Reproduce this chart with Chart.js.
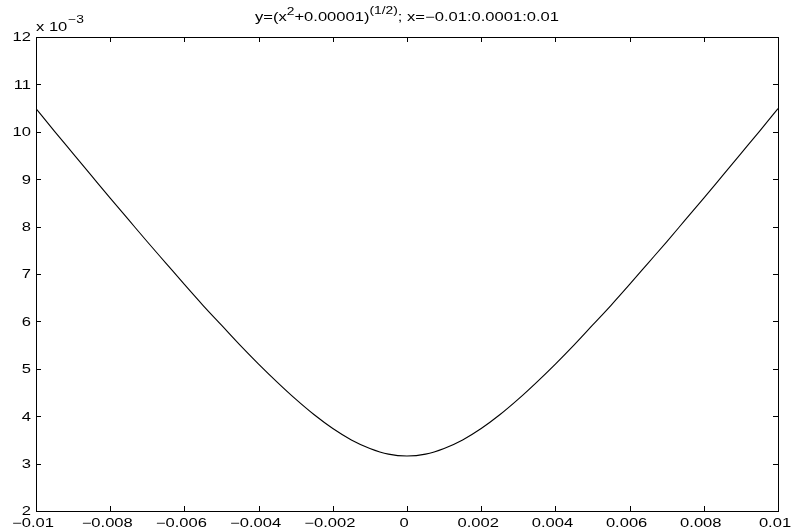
<!DOCTYPE html>
<html>
<head>
<meta charset="utf-8">
<script src="https://cdn.jsdelivr.net/npm/chart.js@4.4.0/dist/chart.umd.min.js"></script>
<style>
  body { margin: 0; background: #fff; }
  #wrap { width: 791px; height: 531px; }
</style>
</head>
<body>
<div id="wrap"><canvas id="myChart" width="791" height="531"></canvas></div>
<script>
// x values (step 0.0005) and y, y in units of 1e-3
const xValues = [-0.01, -0.0095, -0.009, -0.0085, -0.008, -0.0075, -0.007, -0.0065, -0.006, -0.0055,
    -0.005, -0.0045, -0.004, -0.0035, -0.003, -0.0025, -0.002, -0.0015, -0.001, -0.0005,
    0, 0.0005, 0.001, 0.0015, 0.002, 0.0025, 0.003, 0.0035, 0.004, 0.0045,
    0.005, 0.0055, 0.006, 0.0065, 0.007, 0.0075, 0.008, 0.0085, 0.009, 0.0095, 0.01];
const yValues = [10.49, 10.01, 9.54, 9.07, 8.60, 8.14, 7.68, 7.23, 6.78, 6.34,
    5.92, 5.50, 5.10, 4.72, 4.36, 4.03, 3.74, 3.50, 3.32, 3.20,
    3.16, 3.20, 3.32, 3.50, 3.74, 4.03, 4.36, 4.72, 5.10, 5.50,
    5.92, 6.34, 6.78, 7.23, 7.68, 8.14, 8.60, 9.07, 9.54, 10.01, 10.49];
const xTicks = [-0.01, -0.008, -0.006, -0.004, -0.002, 0, 0.002, 0.004, 0.006, 0.008, 0.01];
const xTickLabels = ['\u22120.01', '\u22120.008', '\u22120.006', '\u22120.004', '\u22120.002', '0',
    '0.002', '0.004', '0.006', '0.008', '0.01'];
const yTicks = [2, 3, 4, 5, 6, 7, 8, 9, 10, 11, 12];
const yTickLabels = ['2', '3', '4', '5', '6', '7', '8', '9', '10', '11', '12'];

const FONT = '"Liberation Sans", Arial, Helvetica, sans-serif';
const SX = 1.38; // the reference text is stretched sideways

// text drawn wider than tall, like the picture
function wideText(ctx, str, x, y, size, align) {
    ctx.font = size + 'px ' + FONT;
    const w = ctx.measureText(str).width * SX;
    let left = x;
    if (align === 'center') left = x - w / 2;
    if (align === 'right') left = x - w;
    ctx.save();
    ctx.translate(left, y);
    ctx.scale(SX, 1);
    ctx.textAlign = 'left';
    ctx.fillText(str, 0, 0);
    ctx.restore();
    return w;
}

// box, inward ticks, tick labels, title and exponent label
const matlabAxes = {
    id: 'matlabAxes',
    afterDraw(chart) {
        const ctx = chart.ctx;
        const a = chart.chartArea;
        const xs = chart.scales.x, ys = chart.scales.y;
        ctx.save();
        ctx.strokeStyle = '#000';
        ctx.lineWidth = 1;
        ctx.strokeRect(Math.round(a.left) + 0.5, Math.round(a.top) + 0.5,
            Math.round(a.right - a.left), Math.round(a.bottom - a.top));
        ctx.beginPath();
        const tl = 5;
        xTicks.forEach(v => {
            const px = Math.round(xs.getPixelForValue(v)) + 0.5;
            ctx.moveTo(px, a.bottom); ctx.lineTo(px, a.bottom - tl);
            ctx.moveTo(px, a.top); ctx.lineTo(px, a.top + tl);
        });
        yTicks.forEach(v => {
            const py = Math.round(ys.getPixelForValue(v)) + 0.5;
            ctx.moveTo(a.left, py); ctx.lineTo(a.left + tl, py);
            ctx.moveTo(a.right, py); ctx.lineTo(a.right - tl, py);
        });
        ctx.stroke();

        ctx.fillStyle = '#000';
        // tick labels
        ctx.textBaseline = 'middle';
        xTicks.forEach((v, i) => {
            wideText(ctx, xTickLabels[i], xs.getPixelForValue(v) - 3, a.bottom + 13, 12, 'center');
        });
        yTicks.forEach((v, i) => {
            wideText(ctx, yTickLabels[i], a.left - 5, ys.getPixelForValue(v) + 1, 12, 'right');
        });

        // title with superscripts
        ctx.textBaseline = 'alphabetic';
        const parts = [
            ['y=(x', 12, 21], ['2', 10, 15], ['+0.00001)', 12, 21], ['(1/2)', 10, 14],
            ['; x=\u22120.01:0.0001:0.01', 12, 21]
        ];
        let total = 0;
        parts.forEach(p => { ctx.font = p[1] + 'px ' + FONT; total += ctx.measureText(p[0]).width * SX; });
        let x = (a.left + a.right) / 2 - total / 2;
        parts.forEach(p => { x += wideText(ctx, p[0], x, p[2], p[1], 'left'); });

        // x 10^-3
        const w = wideText(ctx, 'x 10', a.left, 31, 12, 'left');
        wideText(ctx, '\u22123', a.left + w + 1, 23, 10, 'left');
        ctx.restore();
    }
};

document.addEventListener('DOMContentLoaded', function() {
    const ctx = document.getElementById('myChart');
    const points = xValues.map((x, i) => ({x: x, y: yValues[i]}));
    new Chart(ctx, {
        type: 'line',
        data: {
            datasets: [{
                data: points,
                borderColor: '#000',
                borderWidth: 1.1,
                pointRadius: 0,
                fill: false,
                cubicInterpolationMode: 'monotone'
            }]
        },
        options: {
            responsive: false,
            animation: false,
            layout: { padding: { left: 0, right: 13, top: 37, bottom: 0 } },
            plugins: { legend: { display: false }, tooltip: { enabled: false } },
            scales: {
                x: {
                    type: 'linear',
                    min: -0.01,
                    max: 0.01,
                    grid: { display: false, drawTicks: false },
                    border: { display: false },
                    ticks: { display: false },
                    afterBuildTicks: scale => { scale.ticks = xTicks.map(v => ({value: v})); },
                    afterFit: scale => {
                        scale.height = 20;
                        scale.paddingLeft = 0; scale.paddingRight = 0;
                    }
                },
                y: {
                    min: 2,
                    max: 12,
                    grid: { display: false, drawTicks: false },
                    border: { display: false },
                    ticks: { display: false },
                    afterBuildTicks: scale => { scale.ticks = yTicks.map(v => ({value: v})); },
                    afterFit: scale => {
                        scale.width = 36;
                        scale.paddingTop = 0; scale.paddingBottom = 0;
                    }
                }
            }
        },
        plugins: [matlabAxes]
    });
});
</script>
</body>
</html>
